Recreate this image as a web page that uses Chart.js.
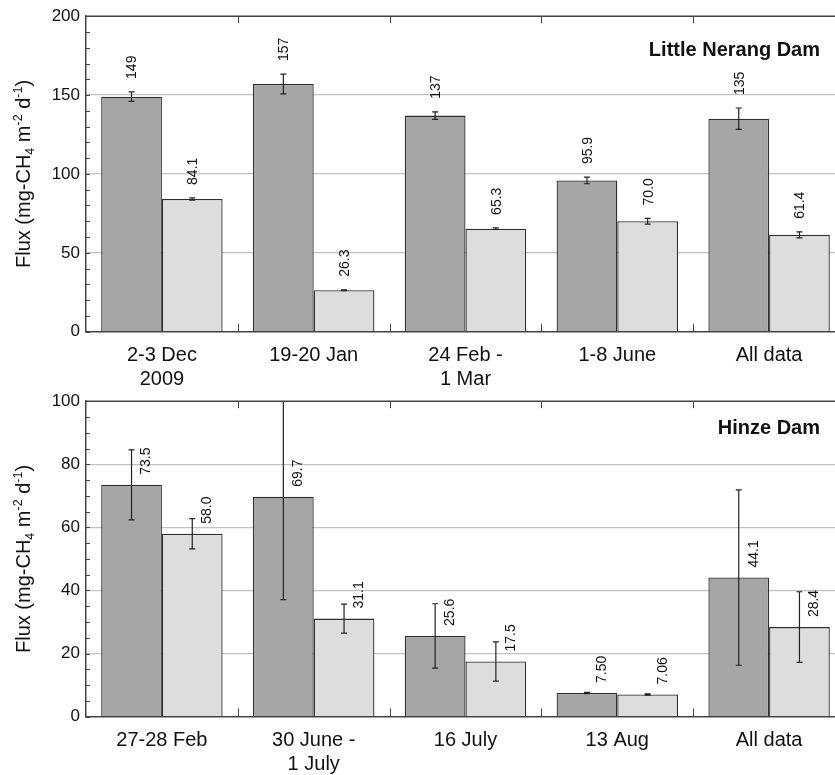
<!DOCTYPE html>
<html>
<head>
<meta charset="utf-8">
<script src="https://cdn.jsdelivr.net/npm/chart.js@4.4.0/dist/chart.umd.min.js"></script>
<style>
  html, body { margin: 0; padding: 0; background: #fff; overflow: hidden; }
  #wrap { position: relative; width: 835px; height: 775px; overflow: hidden; }
  canvas { position: absolute; left: 0; }
  #top { top: 0; }
  #bottom { top: 385px; }
</style>
</head>
<body>
<div id="wrap">
  <canvas id="top" width="845" height="385"></canvas>
  <canvas id="bottom" width="845" height="390"></canvas>
</div>
<script>
// Little Nerang Dam
const lnCategories = [["2-3 Dec", "2009"], "19-20 Jan", ["24 Feb -", "1 Mar"], "1-8 June", "All data"];
const lnDark = [149, 157, 137, 95.9, 135];
const lnDarkErr = [3.0, 6.3, 2.4, 2.1, 6.8];
const lnLight = [84.1, 26.3, 65.3, 70.0, 61.4];
const lnLightErr = [0.7, 0.3, 0.5, 1.8, 1.9];
const lnTicks = [0, 50, 100, 150, 200];

// Hinze Dam
const hzCategories = ["27-28 Feb", ["30 June -", "1 July"], "16 July", "13 Aug", "All data"];
const hzDark = [73.5, 69.7, 25.6, 7.50, 44.1];
const hzDarkErr = [11.1, 32.6, 10.2, 0.2, 27.8];
const hzLight = [58.0, 31.1, 17.5, 7.06, 28.4];
const hzLightErr = [4.8, 4.6, 6.2, 0.2, 11.2];
const hzTicks = [0, 20, 40, 60, 80, 100];

const FONT = "'Liberation Sans', Arial, Helvetica, sans-serif";
const DARK = '#a6a6a6';
const LIGHT = '#dddddd';
const EDGE = '#2e2e2e';

// error bars, value labels, frame, minor ticks, titles
const extras = {
    id: 'extras',
    afterDatasetsDraw(chart, args, opts) {
        const ctx = chart.ctx;
        const a = chart.chartArea;
        const ys = chart.scales.y;

        // error bars (clipped to plot)
        ctx.save();
        ctx.beginPath();
        ctx.rect(a.left, a.top, a.right - a.left, a.bottom - a.top);
        ctx.clip();
        ctx.strokeStyle = '#222';
        ctx.lineWidth = 1.2;
        chart.data.datasets.forEach((ds, i) => {
            chart.getDatasetMeta(i).data.forEach((bar, j) => {
                const v = ds.data[j], e = ds.errors[j];
                const yt = ys.getPixelForValue(v + e);
                const yb = ys.getPixelForValue(v - e);
                ctx.beginPath();
                ctx.moveTo(bar.x, yt); ctx.lineTo(bar.x, yb);
                ctx.moveTo(bar.x - 3, yt); ctx.lineTo(bar.x + 3, yt);
                ctx.moveTo(bar.x - 3, yb); ctx.lineTo(bar.x + 3, yb);
                ctx.stroke();
            });
        });
        ctx.restore();

        // value labels, rotated
        ctx.save();
        ctx.fillStyle = '#111';
        ctx.font = '14px ' + FONT;
        ctx.textAlign = 'left';
        ctx.textBaseline = 'middle';
        chart.data.datasets.forEach((ds, i) => {
            chart.getDatasetMeta(i).data.forEach((bar, j) => {
                const v = ds.data[j], e = ds.errors[j];
                let x, y;
                if (opts.labelMode === 'above') {
                    x = bar.x + 1;
                    y = ys.getPixelForValue(v + e) - 13;
                } else {
                    x = bar.x + 15;
                    y = bar.y - 10;
                }
                ctx.save();
                ctx.translate(x, y);
                ctx.rotate(-Math.PI / 2);
                ctx.fillText(v.toPrecision(3), 0, 0);
                ctx.restore();
            });
        });
        ctx.restore();

        // frame top line, minor ticks, category ticks
        ctx.save();
        ctx.strokeStyle = '#444';
        ctx.lineWidth = 1.5;
        ctx.beginPath();
        ctx.moveTo(a.left, a.top); ctx.lineTo(a.right, a.top);
        ctx.stroke();
        ctx.lineWidth = 1;
        ctx.beginPath();
        for (let v = 0; v <= ys.max; v += opts.minorStep) {
            const py = Math.round(ys.getPixelForValue(v)) + 0.5;
            ctx.moveTo(a.left, py); ctx.lineTo(a.left + 4, py);
        }
        const n = chart.data.labels.length;
        const w = (a.right - a.left) / n;
        for (let k = 1; k < n; k++) {
            const px = Math.round(a.left + k * w) + 0.5;
            ctx.moveTo(px, a.top); ctx.lineTo(px, a.top + 7);
            ctx.moveTo(px, a.bottom); ctx.lineTo(px, a.bottom - 8);
        }
        ctx.stroke();
        ctx.restore();

        // panel title
        ctx.save();
        ctx.fillStyle = '#111';
        ctx.font = 'bold 20px ' + FONT;
        ctx.textAlign = 'right';
        ctx.textBaseline = 'alphabetic';
        ctx.fillText(opts.title, opts.titleX, a.top + opts.titleDy);
        ctx.restore();

        // y axis title with sub/superscripts
        ctx.save();
        ctx.fillStyle = '#111';
        ctx.textBaseline = 'alphabetic';
        ctx.textAlign = 'left';
        const parts = [
            ['Flux (mg-CH', 20, 0], ['4', 12.5, 4], [' m', 20, 0], ['-2', 12.5, -8],
            [' d', 20, 0], ['-1', 12.5, -8], [')', 20, 0]
        ];
        let total = 0;
        parts.forEach(p => { ctx.font = p[1] + 'px ' + FONT; total += ctx.measureText(p[0]).width; });
        ctx.translate(30, (a.top + a.bottom) / 2);
        ctx.rotate(-Math.PI / 2);
        let cx = -total / 2;
        parts.forEach(p => {
            ctx.font = p[1] + 'px ' + FONT;
            ctx.fillText(p[0], cx, p[2]);
            cx += ctx.measureText(p[0]).width;
        });
        ctx.restore();
    }
};

function makeChart(id, cats, dark, darkErr, light, lightErr, ticks, minorStep, title, titleDy, labelMode, xHeight) {
    const yMax = ticks[ticks.length - 1];
    return new Chart(document.getElementById(id), {
        type: 'bar',
        data: {
            labels: cats,
            datasets: [
                { data: dark, errors: darkErr, backgroundColor: DARK, borderColor: EDGE, borderWidth: 1.3 },
                { data: light, errors: lightErr, backgroundColor: LIGHT, borderColor: EDGE, borderWidth: 1.3 }
            ]
        },
        options: {
            responsive: false,
            animation: false,
            devicePixelRatio: 1,
            layout: { padding: { top: 15, left: 0, right: 0, bottom: 0 } },
            datasets: { bar: { categoryPercentage: 0.8, barPercentage: 1.0 } },
            plugins: {
                legend: { display: false },
                tooltip: { enabled: false },
                extras: { title: title, titleX: 820, titleDy: titleDy, labelMode: labelMode, minorStep: minorStep }
            },
            scales: {
                x: {
                    grid: { display: false, drawTicks: false },
                    border: { display: true, color: '#444', width: 1.5 },
                    ticks: { color: '#111', font: { family: FONT, size: 20 }, padding: 12, maxRotation: 0, autoSkip: false },
                    afterFit(s) { s.height = xHeight; }
                },
                y: {
                    min: 0,
                    max: yMax,
                    afterBuildTicks(s) { s.ticks = ticks.map(v => ({ value: v })); },
                    grid: {
                        drawTicks: false,
                        lineWidth: 1.2,
                        color: c => (c.tick && (c.tick.value === 0 || c.tick.value === yMax)) ? 'rgba(0,0,0,0)' : '#c2c2c2'
                    },
                    border: { display: true, color: '#444', width: 1.5 },
                    ticks: { color: '#111', font: { family: FONT, size: 17 }, padding: 6 },
                    afterFit(s) { s.width = 86; }
                }
            }
        },
        plugins: [extras]
    });
}

makeChart('top', lnCategories, lnDark, lnDarkErr, lnLight, lnLightErr, lnTicks, 10,
    'Little Nerang Dam', 40, 'above', 385 - 15 - 316.7);
makeChart('bottom', hzCategories, hzDark, hzDarkErr, hzLight, hzLightErr, hzTicks, 5,
    'Hinze Dam', 32.7, 'side', 390 - 15 - 316.7);
</script>
</body>
</html>
